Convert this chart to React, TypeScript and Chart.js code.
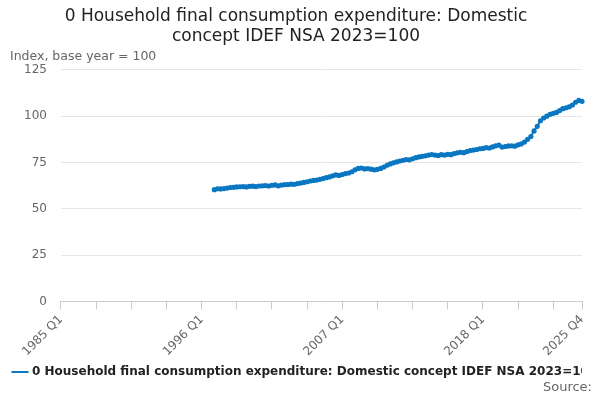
import React, { useEffect, useRef } from "react";
import { Chart, registerables } from "chart.js";
Chart.register(...registerables);

const startYear = 1985;
const endYear = 2025;
const dataStartYear = 1997;
const values: number[] = [
  60.3,60.8,60.7,60.9, 61.2,61.5,61.6,61.8, 61.9,62.0,61.8,62.1, 62.2,62.0,62.3,62.4,
  62.5,62.3,62.7,62.9, 62.4,62.8,63.0,63.1, 63.3,63.2,63.6,63.9, 64.2,64.6,65.0,65.3,
  65.5,65.9,66.3,66.8, 67.2,67.8,68.3,68.0, 68.5,69.0,69.3,70.0, 71.0,71.8,72.0,71.5,
  71.7,71.4,71.0,71.3, 71.8,72.5,73.5,74.2, 74.8,75.3,75.8,76.2, 76.6,76.4,77.0,77.6,
  78.0,78.3,78.6,79.0, 79.3,79.0,78.7,79.2, 79.0,79.4,79.2,79.8, 80.2,80.5,80.3,80.9,
  81.4,81.7,82.0,82.4, 82.6,83.0,82.8,83.4, 84.0,84.4,83.3,83.6, 83.9,84.0,83.8,84.5,
  85.0,86.0,87.5,89.0, 92.0,94.5,97.5,99.0, 100.0,101.0,101.5,102.0, 103.0,104.0,104.5,105.0,
  106.0,107.5,108.5,108.0,
];
const seriesName = "0 Household final consumption expenditure: Domestic concept IDEF NSA 2023=100";

const labels: string[] = [];
for (let y = startYear; y <= endYear; y++) for (let q = 1; q <= 4; q++) labels.push(`${y} Q${q}`);
const offset = (dataStartYear - startYear) * 4;
const series: (number | null)[] = labels.map((_, i) => (i >= offset && i - offset < values.length ? values[i - offset] : null));

export default function App() {
  const ref = useRef<HTMLCanvasElement>(null);
  useEffect(() => {
    const last = labels.length - 1;
    const chart = new Chart(ref.current!, {
      type: "line",
      data: {
        labels,
        datasets: [{
          label: seriesName, data: series, borderColor: "#0a77c2", backgroundColor: "#0a77c2",
          borderWidth: 2, pointRadius: 1.6, pointHoverRadius: 3, spanGaps: false,
        }],
      },
      options: {
        animation: false, responsive: false, maintainAspectRatio: false,
        layout: { padding: { left: 10, right: 18, top: 0, bottom: 12 } },
        plugins: {
          title: { display: true, text: ["0 Household final consumption expenditure: Domestic", "concept IDEF NSA 2023=100"],
            font: { family: "DejaVu Sans", size: 17, weight: "normal" }, color: "#222", padding: { top: 6, bottom: 2 }, },
          subtitle: { display: true, text: "Index, base year = 100", align: "start",
            font: { family: "DejaVu Sans", size: 12.5 }, color: "#666", padding: { bottom: 6 } },
          legend: { position: "bottom", align: "start",
            labels: { usePointStyle: true, pointStyle: "line", boxWidth: 14, color: "#222",
              font: { family: "DejaVu Sans", size: 12, weight: "bold" }, padding: 4 } },
          tooltip: { enabled: false },
        },
        scales: {
          x: {
            grid: { drawOnChartArea: false, color: (c: any) => (c.index % 11 === 0 || c.index === last ? "#ccc" : "rgba(0,0,0,0)"), tickLength: 8 },
            border: { color: "#ccc" },
            ticks: {
              autoSkip: false, maxRotation: 45, minRotation: 45, color: "#666",
              font: { family: "DejaVu Sans", size: 12 },
              callback: (_v: any, i: number) => (i % 44 === 0 || i === last ? labels[i] : ""),
            },
          },
          y: {
            min: 0, max: 125,
            ticks: { stepSize: 25, color: "#666", font: { family: "DejaVu Sans", size: 12 }, padding: 14 },
            grid: { color: "#e6e6e6", drawTicks: false },
            border: { display: false },
          },
        },
      },
    } as any);
    return () => chart.destroy();
  }, []);
  return (
    <div style={{ position: "fixed", left: 0, top: 0, width: 600, height: 400, background: "#fff" }}>
      <canvas ref={ref} width={600} height={400} />
      <div style={{ position: "absolute", right: 8, bottom: 6, fontFamily: "DejaVu Sans", fontSize: 13, color: "#666" }}>Source:</div>
    </div>
  );
}
